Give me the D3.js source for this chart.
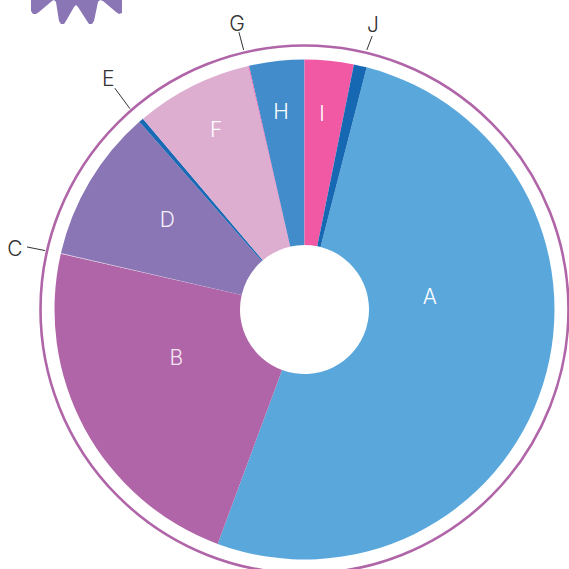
<!DOCTYPE html>
<html><head><meta charset="utf-8">
<script src="https://cdn.jsdelivr.net/npm/d3@7"></script>
<style>html,body{margin:0;padding:0;background:#fff}svg{display:block}
text{font-family:Inter,"Liberation Sans",Arial,sans-serif;font-weight:300;font-size:21px}</style>
</head><body><svg id="c" width="569" height="569"></svg>
<script>
const categories=["A","B","C","D","E","F","G","H","I","J"];
const values=[185.9,82.55,0.15,35.6,1.1,27.25,0.2,12.8,11.4,3];
const colors=["#5aa7dc","#b065a8","#d9c2dd","#8a76b5","#1a69b4","#ddaed0","#f05aa5","#438ccb","#f159a4","#1668b3"];
const labelColors=["#fff","#f4e4f2","#333","#f4f0fa","#333","#fff","#333","#fff","#fff","#333"];
// label placement in degrees clockwise from 12 o'clock, and radius
const labelAngles=[83.9,249.3,282,303.4,319.7,333.9,346.7,353.2,5.1,13.5];
const labelRadii=[126,137,296,164.5,303.5,201,293.5,199,196.5,293.5];
const leaderCats=["C","E","G","J"];
const leaderFrom=[[282.8,266],[319,266],[346.8,266.6],[13.5,267]];
const leaderTo=[[282.7,284.5],[319.4,291.5],[346.7,285],[13.9,281.7]];
const emblem=[[31,-3],[31,11],[33,14],[36,14],[39,12],[52,1],[54,0],[56,2],[59,21],[61,24],[64,24],[66,21],[74,7],[76,5],[78,7],[87,21],[89,24],[92,24],[94,21],[98,2],[100,0],[103,1],[116,12],[119,14],[122,13],[122,-3]];
const cx=304.5,cy=309.5,R=250,r=64.5,ringR=264;
const svg=d3.select("#c");
const root=svg.append("g").attr("transform",`translate(${cx},${cy})`);
const rad=d3.scaleLinear().domain([0,360]).range([0,2*Math.PI]);
const polar=([a,q])=>[Math.sin(rad(a))*q,-Math.cos(rad(a))*q];
const start=rad(14.4);
const pie=d3.pie().sort(null).value(d=>d.v).startAngle(start).endAngle(start+2*Math.PI);
const arcs=pie(categories.map((k,i)=>({k,v:values[i],c:colors[i],t:labelColors[i],a:labelAngles[i],q:labelRadii[i]})));
const arc=d3.arc().innerRadius(r).outerRadius(R);
root.append("circle").attr("r",ringR).attr("fill","none").attr("stroke","#b065a8").attr("stroke-width",2.6);
root.selectAll("path.s").data(arcs).join("path").attr("class","s").attr("d",arc).attr("fill",d=>d.data.c);
root.selectAll("line.l").data(leaderCats).join("line").attr("class","l").attr("stroke","#333").attr("stroke-width",1)
 .attr("x1",(d,i)=>polar(leaderFrom[i])[0]).attr("y1",(d,i)=>polar(leaderFrom[i])[1])
 .attr("x2",(d,i)=>polar(leaderTo[i])[0]).attr("y2",(d,i)=>polar(leaderTo[i])[1]);
root.selectAll("text.t").data(arcs).join("text").attr("class","t").attr("text-anchor","middle").attr("dy","0.36em")
 .attr("fill",d=>d.data.t)
 .attr("x",d=>polar([d.data.a,d.data.q])[0]).attr("y",d=>polar([d.data.a,d.data.q])[1]).text(d=>d.data.k);
svg.append("path").attr("fill","#8a76b5").attr("d",d3.line().curve(d3.curveLinearClosed)(emblem));
</script></body></html>
